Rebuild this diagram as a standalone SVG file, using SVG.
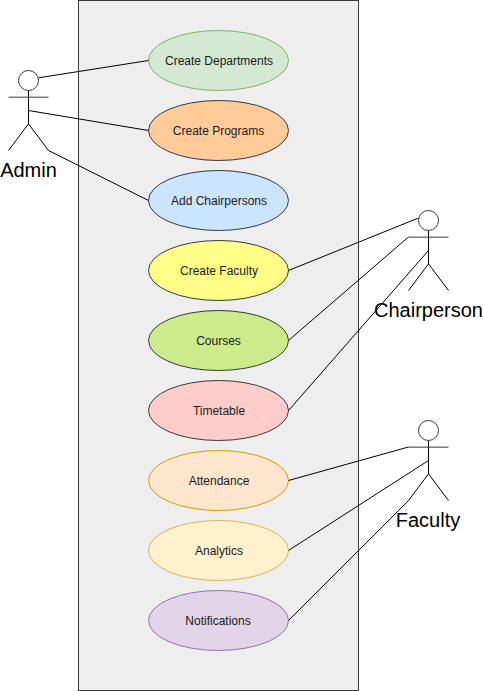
<svg xmlns="http://www.w3.org/2000/svg" width="483" height="691" viewBox="0 0 483 691">
<style>
.n{stroke-width:1}
.t{font-family:"Liberation Sans",Arial,sans-serif;font-size:12px;fill:#1a1a1a;text-anchor:middle}
.l{font-family:"Liberation Sans",Arial,sans-serif;font-size:20px;fill:#000;text-anchor:middle}
.c{fill:none;stroke:#000;stroke-width:1}
.a{fill:none;stroke:#000;stroke-width:1}
.h{fill:#fff;stroke:#36393d;stroke-width:1}
</style>
<defs>
<g id="stick">
<path class="a" d="M0 20V53.33M0 53.33L-20 80M0 53.33L20 80"/>
<path d="M-20 26.67H20" fill="none" stroke="#36393d"/>
</g>
</defs>
<rect id="system" x="78.5" y="0.5" width="280" height="690" fill="#eeeeee" stroke="#36393d"/>
<g id="uc-departments"><ellipse class="n" cx="218.5" cy="60.5" rx="70" ry="30" fill="#d5e8d4" stroke="#82b366"/><text class="t" x="219" y="65">Create Departments</text></g>
<g id="uc-programs"><ellipse class="n" cx="218.5" cy="130.5" rx="70" ry="30" fill="#ffcc99" stroke="#36393d"/><text class="t" x="218.5" y="135">Create Programs</text></g>
<g id="uc-chairpersons"><ellipse class="n" cx="218.5" cy="200.5" rx="70" ry="30" fill="#cce5ff" stroke="#36393d"/><text class="t" x="219" y="205">Add Chairpersons</text></g>
<g id="uc-faculty"><ellipse class="n" cx="218.5" cy="270.5" rx="70" ry="30" fill="#ffff88" stroke="#36393d"/><text class="t" x="219" y="275">Create Faculty</text></g>
<g id="uc-courses"><ellipse class="n" cx="218.5" cy="340.5" rx="70" ry="30" fill="#cdeb8b" stroke="#36393d"/><text class="t" x="218.5" y="345">Courses</text></g>
<g id="uc-timetable"><ellipse class="n" cx="218.5" cy="410.5" rx="70" ry="30" fill="#ffcccc" stroke="#36393d"/><text class="t" x="219" y="415">Timetable</text></g>
<g id="uc-attendance"><ellipse class="n" cx="218.5" cy="480.5" rx="70" ry="30" fill="#ffe6cc" stroke="#d79b00"/><text class="t" x="219" y="485">Attendance</text></g>
<g id="uc-analytics"><ellipse class="n" cx="218.5" cy="550.5" rx="70" ry="30" fill="#fff2cc" stroke="#d6b656"/><text class="t" x="219" y="555">Analytics</text></g>
<g id="uc-notifications"><ellipse class="n" cx="218.5" cy="620.5" rx="70" ry="30" fill="#e1d5e7" stroke="#9673a6"/><text class="t" x="218" y="625">Notifications</text></g>
<g id="connectors">
<path class="c" d="M38.5 77.8L148.5 60.5"/>
<path class="c" d="M28.5 110.5L148.5 130.5"/>
<path class="c" d="M48.5 150.5L148.5 200.5"/>
<path class="c" d="M288.5 270.5L418.5 218"/>
<path class="c" d="M288.5 340.5L408.5 237"/>
<path class="c" d="M288.5 410.5L428.5 250.5"/>
<path class="c" d="M288.5 480.5L408.5 447"/>
<path class="c" d="M288.5 550.5L428.5 460.5"/>
<path class="c" d="M288.5 620.5L408.5 500.5"/>
</g>
<g id="actor-admin"><use href="#stick" x="28.5" y="70.5"/><circle class="h" cx="28.5" cy="80.5" r="10"/><text class="l" x="28.5" y="177">Admin</text></g>
<g id="actor-chairperson"><use href="#stick" x="428.5" y="210.5"/><circle class="h" cx="428.5" cy="220.5" r="10"/><text class="l" x="428.5" y="317">Chairperson</text></g>
<g id="actor-faculty"><use href="#stick" x="428.5" y="420.5"/><circle class="h" cx="428.5" cy="430.5" r="10"/><text class="l" x="428" y="527">Faculty</text></g>
</svg>
